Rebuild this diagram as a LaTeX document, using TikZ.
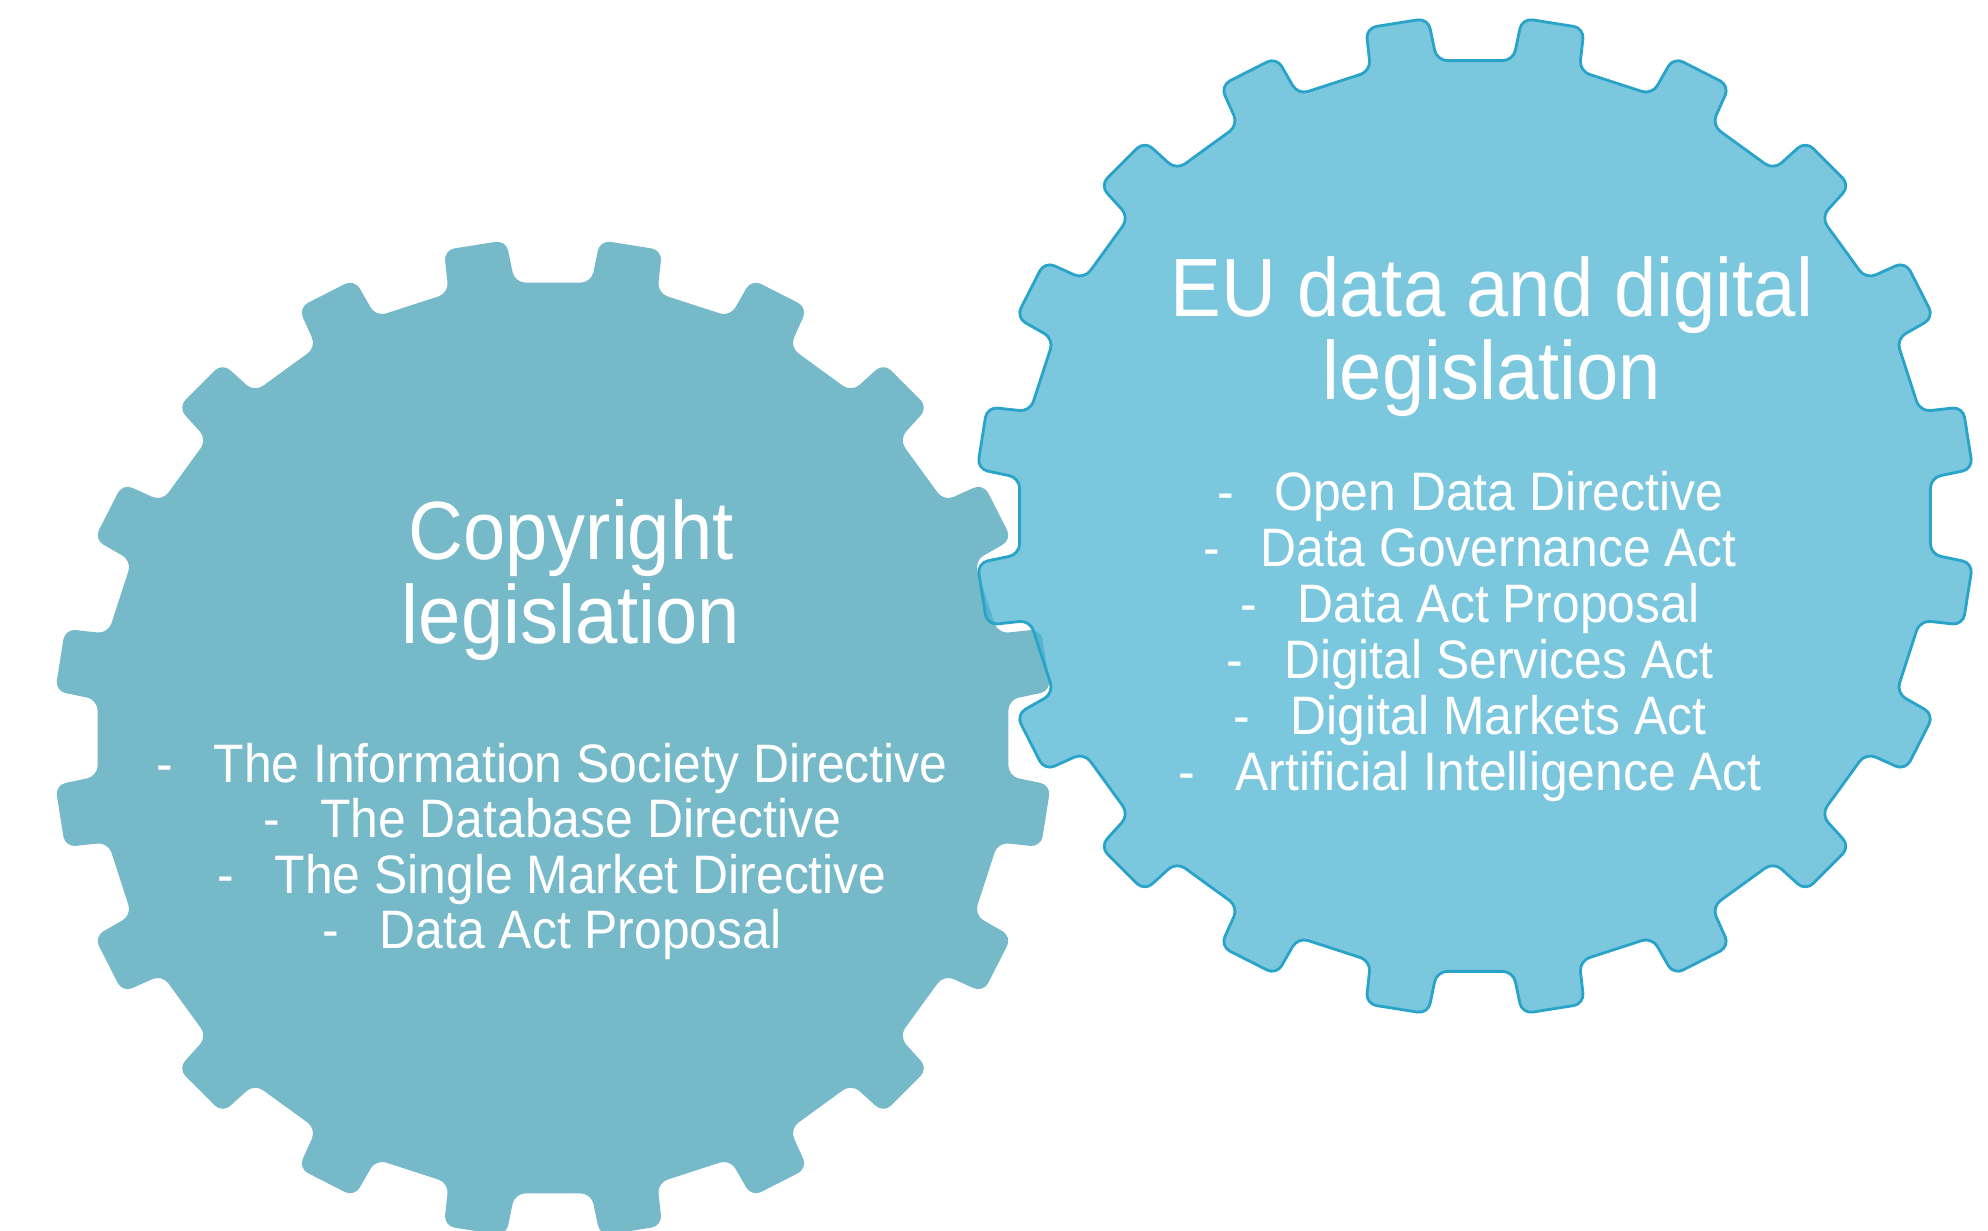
\documentclass[tikz,border=0pt]{standalone}
\usepackage{fontspec}
\setmainfont{Liberation Sans}[FakeStretch=0.92]
\definecolor{copyteal}{HTML}{76B9C9}
\definecolor{eublue}{HTML}{4FB4D3}
\definecolor{euedge}{HTML}{2AA3C8}
\def \rtip {500}
\def \rroot {457}
\def \tipangle {3.6}
\def \rootangle {4.2}
\def \gearoutline {({9-\rootangle}:\rroot) -- ({9-\tipangle}:\rtip) -- ({9+\tipangle}:\rtip) -- ({9+\rootangle}:\rroot)
  \foreach \k in {1,...,19} {
    -- ({9+\k*18-\rootangle}:\rroot) -- ({9+\k*18-\tipangle}:\rtip) -- ({9+\k*18+\tipangle}:\rtip) -- ({9+\k*18+\rootangle}:\rroot)
  } -- cycle}
\tikzset{
  headtext/.style={text=white, font=\fontsize{23.5}{24}\selectfont, anchor=base, inner sep=0pt},
  itemtext/.style={text=white, font=\fontsize{15.4}{16}\selectfont, anchor=base, inner sep=0pt},
  copygear/.style={fill=copyteal, rounded corners=3pt},
  eugear/.style={fill=eublue, fill opacity=0.75, draw=euedge, line width=0.8pt, rounded corners=3pt}
}
\begin{document}
\begin{tikzpicture}[x=0.01cm, y=-0.01cm]
\useasboundingbox (0,0) rectangle (1988,1231);
\clip (0,0) rectangle (1988,1231);
% Draw the copyright gear
\begin{scope}[shift={(553,738)}]
\path[copygear] \gearoutline;
\end{scope}
% Draw the EU gear on top of it
\begin{scope}[shift={(1475,516)}]
\path[eugear] \gearoutline;
\end{scope}
% Headings
\node[headtext] (copyhead1) at (571,560) {Copyright};
\node[headtext] (copyhead2) at (571,643) {legislation};
\node[headtext] (euhead1) at (1492,317) {EU data and digital};
\node[headtext] (euhead2) at (1492,400) {legislation};
% The lists
\foreach \entry [count=\i] in {The Information Society Directive, The Database Directive, The Single Market Directive, Data Act Proposal}
  \node[itemtext] (copyitem\i) at (552,{782+(\i-1)*55.5}) {-\hspace{0.75em}\entry};
\foreach \entry [count=\i] in {Open Data Directive, Data Governance Act, Data Act Proposal, Digital Services Act, Digital Markets Act, Artificial Intelligence Act}
  \node[itemtext] (euitem\i) at (1470,{511+(\i-1)*55.8}) {-\hspace{0.75em}\entry};
\end{tikzpicture}
\end{document}
